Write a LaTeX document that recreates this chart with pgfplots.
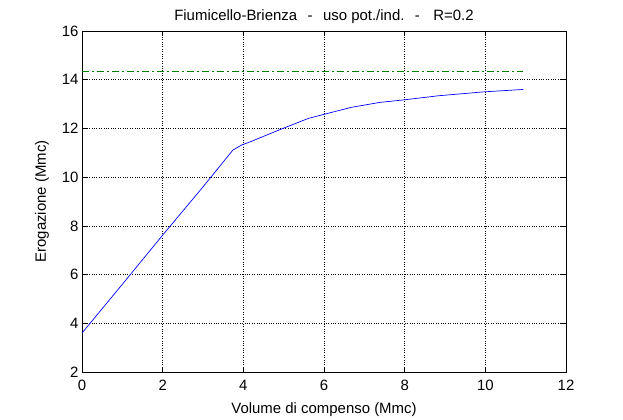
\documentclass[border=0pt]{standalone}
\usepackage{fontspec}
\setmainfont{Liberation Sans}
\usepackage{pgfplots}
\pgfplotsset{compat=1.18}
\definecolor{mgreen}{rgb}{0,0.5,0}

\begin{document}
\begin{tikzpicture}[x=1bp,y=1bp]
\path[use as bounding box] (-82,-47) rectangle (541,372);
\begin{axis}[
  at={(0,0)}, anchor=south west,
  scale only axis, width=484bp, height=341bp,
  xmin=0, xmax=12, ymin=2, ymax=16,
  xtick={0,2,...,12}, ytick={2,4,...,16},
  tick align=inside, major tick length=5bp,
  grid=major, major grid style={black, dotted, line width=0.6pt},
  axis line style={black, line width=0.6pt},
  tick style={black, line width=0.6pt},
  font=\fontsize{15}{17}\selectfont,
  /pgf/number format/assume math mode=true,
  title={Fiumicello-Brienza\hspace{0.7em}-\hspace{0.7em}uso pot./ind.\hspace{0.7em}-\hspace{0.9em}R=0.2},
  title style={yshift=-2bp},
  xlabel={Volume di compenso (Mmc)},
  ylabel={Erogazione (Mmc)},
  xticklabel style={yshift=-5bp},
  xlabel style={yshift=-5bp},
  ylabel style={yshift=6bp},
]
\addplot[blue, line width=0.7pt] coordinates {
  (0,3.6) (1,5.6) (2,7.62) (3,9.6) (3.74,11.11) (3.96,11.32)
  (4.17,11.45) (4.95,11.98) (5.61,12.41) (6.19,12.66) (6.69,12.87)
  (7.39,13.07) (7.97,13.17) (8.83,13.34) (9.95,13.5) (10.94,13.6)
};
\addplot[mgreen, line width=0.8pt, dash pattern=on 7bp off 3bp on 2bp off 3bp] coordinates {
  (0,14.36) (10.94,14.36)
};
\end{axis}
\end{tikzpicture}
\end{document}
